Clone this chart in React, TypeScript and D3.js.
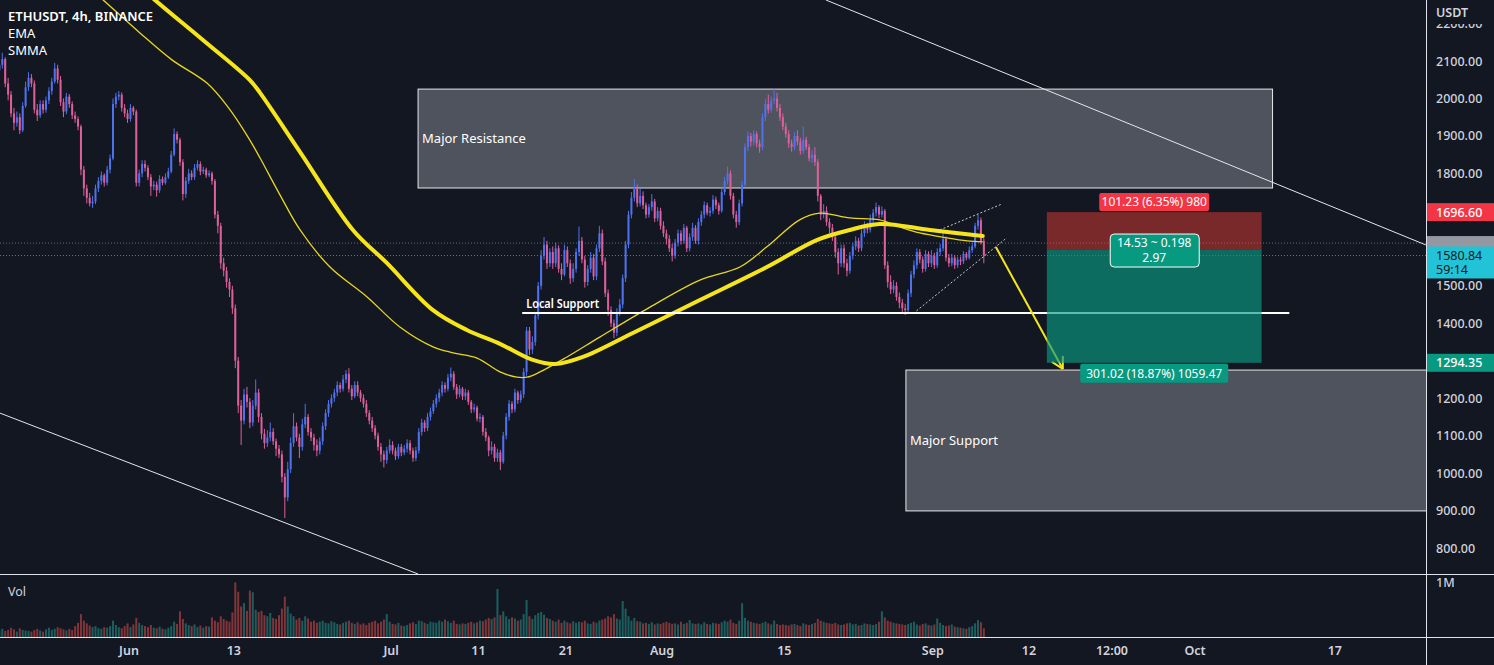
import React from "react";
import * as d3 from "d3";

const W = 1494;
const H = 665;
const PLOT_R = 1426;
const MAIN_B = 574;
const VOL_B = 637;

// 8h candles from 2022-05-17 00:00 UTC
const startTime = Date.UTC(2022, 4, 17, 0);
const stepMs = 8 * 3600 * 1000;
const firstOpen = 2075;

const closes = [
  2090, 2105, 2040, 2010, 1960, 1935, 1950, 1915, 1980, 2030,
  2055, 2040, 1970, 1955, 1985, 1970, 1995, 2020, 2045, 2080,
  2050, 1990, 1965, 2005, 1985, 1955, 1945, 1925, 1810, 1760,
  1735, 1720, 1725, 1760, 1780, 1795, 1775, 1810, 1840, 1985,
  2005, 2010, 1975, 1960, 1945, 1975, 1965, 1775, 1800, 1825,
  1815, 1790, 1765, 1770, 1755, 1785, 1775, 1790, 1805, 1850,
  1905, 1890, 1830, 1745, 1780, 1800, 1790, 1815, 1825, 1805,
  1810, 1795, 1800, 1780, 1690, 1660, 1560, 1540, 1510, 1490,
  1440, 1300, 1180, 1140, 1210, 1190, 1135, 1180, 1215, 1150,
  1105, 1080, 1095, 1110, 1085, 1065, 1050, 990, 935, 1010,
  1080, 1125, 1095, 1070, 1130, 1150, 1110, 1095, 1075, 1060,
  1085, 1125, 1160, 1185, 1200, 1215, 1235, 1225, 1250, 1265,
  1225, 1205, 1235, 1215, 1200, 1185, 1160, 1140, 1120, 1100,
  1070, 1050, 1035, 1060, 1075, 1060, 1045, 1070, 1055, 1065,
  1080, 1060, 1040, 1060, 1110, 1135, 1120, 1150, 1165, 1185,
  1200, 1215, 1235, 1225, 1255, 1265, 1230, 1210, 1225, 1205,
  1215, 1190, 1170, 1175, 1145, 1150, 1110, 1095, 1060, 1070,
  1040, 1055, 1030, 1100, 1150, 1185, 1170, 1215, 1195, 1210,
  1270, 1380, 1330, 1350, 1420, 1500, 1580, 1610, 1560, 1590,
  1560, 1600, 1545, 1530, 1595, 1560, 1520, 1545, 1590, 1620,
  1570, 1510, 1545, 1575, 1525, 1600, 1640, 1565, 1480, 1435,
  1400, 1375, 1430, 1450, 1520, 1610, 1690, 1735, 1760, 1720,
  1740, 1715, 1690, 1710, 1725, 1680, 1700, 1660, 1640, 1625,
  1600, 1580, 1615, 1640, 1620, 1655, 1600, 1630, 1655, 1620,
  1670, 1690, 1715, 1695, 1700, 1730, 1715, 1700, 1750, 1780,
  1800, 1740, 1690, 1670, 1720, 1770, 1870, 1900, 1885, 1905,
  1880, 1870, 1950, 1985, 1970, 1995, 2000, 1975, 1950, 1925,
  1905, 1880, 1870, 1900, 1885, 1860, 1890, 1870, 1840, 1850,
  1830, 1740, 1690, 1700, 1670, 1655, 1630, 1590, 1560, 1600,
  1560, 1540, 1580, 1605, 1620, 1600, 1640, 1660, 1650, 1675,
  1695, 1710, 1690, 1700, 1555, 1510, 1490, 1500, 1470, 1455,
  1440, 1435, 1480, 1530, 1555, 1590, 1570, 1545, 1585, 1560,
  1580, 1555, 1590, 1600, 1625, 1575, 1560, 1575, 1555, 1570,
  1565, 1585, 1575, 1595, 1605, 1660, 1675, 1620, 1580.84,
];

const highs = [
  2105, 2122, 2110, 2055, 2020, 1975, 1965, 1960, 1990, 2045,
  2070, 2065, 2048, 1985, 1995, 1995, 2005, 2030, 2055, 2095,
  2090, 2060, 2000, 2015, 2012, 1992, 1965, 1952, 1930, 1820,
  1770, 1748, 1740, 1770, 1790, 1805, 1800, 1820, 1850, 2000,
  2015, 2020, 2016, 1985, 1970, 1985, 1980, 1970, 1810, 1835,
  1835, 1822, 1798, 1780, 1778, 1795, 1792, 1800, 1815, 1860,
  1920, 1912, 1895, 1838, 1790, 1812, 1808, 1825, 1835, 1832,
  1818, 1815, 1808, 1805, 1785, 1700, 1668, 1575, 1550, 1520,
  1500, 1450, 1310, 1195, 1225, 1230, 1200, 1195, 1250, 1225,
  1160, 1118, 1115, 1135, 1120, 1092, 1075, 1060, 1000, 1030,
  1095, 1160, 1135, 1105, 1145, 1185, 1158, 1120, 1105, 1090,
  1095, 1135, 1170, 1195, 1210, 1225, 1245, 1242, 1262, 1275,
  1280, 1235, 1245, 1245, 1222, 1210, 1195, 1168, 1150, 1128,
  1108, 1080, 1060, 1070, 1090, 1085, 1068, 1078, 1078, 1075,
  1090, 1088, 1068, 1070, 1120, 1145, 1142, 1160, 1175, 1195,
  1210, 1225, 1245, 1242, 1265, 1282, 1272, 1238, 1235, 1230,
  1225, 1222, 1195, 1185, 1180, 1160, 1155, 1120, 1100, 1085,
  1078, 1065, 1062, 1110, 1160, 1195, 1192, 1225, 1220, 1220,
  1280, 1390, 1390, 1365, 1430, 1510, 1595, 1630, 1620, 1600,
  1605, 1615, 1608, 1560, 1610, 1605, 1570, 1560, 1600, 1658,
  1630, 1580, 1555, 1590, 1585, 1610, 1660, 1650, 1575, 1490,
  1445, 1410, 1440, 1465, 1530, 1620, 1700, 1750, 1785, 1770,
  1760, 1752, 1722, 1718, 1745, 1732, 1710, 1708, 1672, 1650,
  1635, 1612, 1625, 1650, 1648, 1665, 1660, 1640, 1668, 1662,
  1680, 1700, 1725, 1722, 1710, 1742, 1738, 1722, 1762, 1790,
  1818, 1808, 1748, 1700, 1730, 1780, 1880, 1912, 1908, 1915,
  1912, 1890, 1960, 1998, 2010, 2005, 2025, 2015, 1985, 1960,
  1935, 1915, 1890, 1910, 1915, 1895, 1925, 1898, 1878, 1862,
  1870, 1838, 1745, 1718, 1712, 1680, 1665, 1640, 1600, 1610,
  1610, 1572, 1590, 1615, 1632, 1628, 1650, 1672, 1668, 1690,
  1705, 1722, 1715, 1712, 1705, 1565, 1528, 1515, 1510, 1482,
  1465, 1452, 1490, 1540, 1568, 1600, 1598, 1578, 1595, 1592,
  1595, 1588, 1600, 1612, 1648, 1632, 1585, 1585, 1582, 1578,
  1578, 1592, 1590, 1605, 1615, 1668, 1690, 1682, 1628,
];

const lows = [
  2065, 2080, 2030, 1995, 1950, 1915, 1925, 1905, 1910, 1975,
  2020, 2030, 1960, 1940, 1948, 1960, 1962, 1985, 2010, 2040,
  2040, 1980, 1950, 1958, 1975, 1945, 1935, 1915, 1795, 1740,
  1720, 1712, 1708, 1718, 1750, 1770, 1765, 1768, 1800, 1835,
  1975, 1995, 1965, 1950, 1935, 1938, 1955, 1765, 1765, 1790,
  1805, 1782, 1740, 1755, 1738, 1748, 1768, 1770, 1785, 1800,
  1845, 1880, 1820, 1728, 1735, 1772, 1782, 1783, 1808, 1795,
  1798, 1788, 1790, 1770, 1680, 1640, 1545, 1525, 1495, 1470,
  1425, 1280, 1160, 1075, 1130, 1175, 1120, 1125, 1170, 1135,
  1090, 1065, 1070, 1085, 1075, 1045, 1040, 975, 880, 925,
  1000, 1070, 1085, 1040, 1060, 1120, 1100, 1085, 1060, 1045,
  1050, 1075, 1115, 1150, 1175, 1190, 1205, 1215, 1218, 1240,
  1215, 1195, 1200, 1205, 1190, 1175, 1150, 1130, 1110, 1090,
  1060, 1030, 1015, 1025, 1052, 1050, 1035, 1038, 1045, 1048,
  1055, 1050, 1030, 1032, 1052, 1100, 1110, 1112, 1140, 1158,
  1175, 1190, 1205, 1215, 1218, 1245, 1222, 1198, 1202, 1195,
  1195, 1182, 1160, 1162, 1138, 1135, 1100, 1085, 1045, 1050,
  1030, 1030, 1008, 1025, 1090, 1140, 1160, 1162, 1185, 1188,
  1200, 1260, 1315, 1318, 1340, 1410, 1490, 1570, 1545, 1550,
  1545, 1550, 1535, 1515, 1525, 1550, 1505, 1510, 1535, 1580,
  1560, 1495, 1500, 1535, 1515, 1515, 1590, 1555, 1470, 1420,
  1390, 1360, 1365, 1420, 1440, 1510, 1600, 1680, 1725, 1710,
  1712, 1705, 1680, 1682, 1700, 1670, 1672, 1650, 1630, 1610,
  1590, 1565, 1572, 1605, 1610, 1612, 1590, 1592, 1620, 1612,
  1610, 1660, 1680, 1688, 1685, 1692, 1705, 1690, 1695, 1742,
  1770, 1730, 1680, 1655, 1662, 1712, 1765, 1860, 1872, 1875,
  1870, 1855, 1862, 1940, 1960, 1962, 1985, 1965, 1940, 1915,
  1895, 1868, 1858, 1862, 1875, 1850, 1852, 1862, 1832, 1828,
  1820, 1725, 1675, 1680, 1660, 1640, 1620, 1575, 1530, 1550,
  1548, 1525, 1532, 1570, 1595, 1590, 1592, 1630, 1640, 1642,
  1665, 1685, 1680, 1682, 1545, 1495, 1478, 1480, 1460, 1440,
  1430, 1422, 1428, 1470, 1520, 1545, 1560, 1535, 1538, 1550,
  1550, 1545, 1548, 1580, 1592, 1565, 1550, 1552, 1545, 1548,
  1555, 1558, 1568, 1570, 1588, 1600, 1650, 1610, 1560,
];

// volume in thousands
const volumes = [
  120, 150, 110, 130, 170, 140, 100, 160, 130, 120,
  110, 100, 130, 150, 120, 100, 140, 170, 130, 150,
  180, 160, 140, 120, 150, 130, 200, 260, 420, 300,
  250, 210, 180, 200, 160, 150, 180, 170, 200, 300,
  220, 180, 160, 200, 250, 180, 230, 350, 260, 220,
  200, 180, 220, 170, 160, 190, 150, 140, 170, 200,
  280, 240, 470, 330, 250, 220, 200, 230, 180, 210,
  170, 200, 190, 360, 300, 270, 380, 330, 300, 280,
  450, 1000, 830, 560, 620, 480, 850, 820, 500, 460,
  480, 400, 380, 440, 350, 330, 400, 520, 740, 560,
  430, 380, 320, 350, 300, 380, 340, 280, 300, 260,
  280, 300, 260, 250, 290, 270, 240, 230, 260, 280,
  300, 260, 240, 270, 230, 250, 220, 260, 280, 300,
  250, 280, 320, 420, 280, 240, 230, 260, 210, 200,
  220, 250, 270, 240, 300, 290, 260, 240, 280, 270,
  260, 300, 280, 320, 290, 260, 300, 240, 230, 250,
  240, 260, 280, 250, 270, 300, 290, 320, 350, 330,
  360, 880, 400, 470, 380, 330, 360, 340, 300, 320,
  420, 680, 380, 330, 400, 440, 460, 410, 350, 330,
  300, 280, 320, 260, 300, 270, 250, 290, 260, 280,
  270, 300, 250, 240, 280, 260, 300, 320, 340, 380,
  360, 420, 340, 320, 660, 520, 380, 300, 350, 290,
  280, 250, 260, 240, 270, 230, 250, 240, 260, 280,
  260, 240, 250, 230, 280, 240, 260, 310, 250, 240,
  250, 230, 270, 240, 230, 260, 250, 240, 270, 300,
  280, 320, 260, 240, 300, 620, 350, 300, 280, 260,
  250, 240, 260, 280, 250, 230, 300, 240, 220, 230,
  220, 210, 230, 240, 220, 200, 250, 230, 220, 240,
  260, 330, 300, 280, 260, 250, 240, 260, 230, 220,
  230, 250, 260, 230, 240, 210, 220, 250, 240, 230,
  220, 240, 280, 470, 360, 300, 280, 260, 250, 240,
  230, 220, 240, 260, 280, 230, 210, 240, 250, 220,
  210, 230, 340, 260, 220, 200, 210, 230, 190, 180,
  170, 160, 150, 180, 200, 250, 310, 270, 160,
];

// SMMA (thick) and EMA (thin)
const smmaDates = [
  "2022-05-31T00:00Z", "2022-06-03T23:00Z", "2022-06-09T11:00Z", "2022-06-14T20:00Z",
  "2022-06-16T00:00Z", "2022-06-20T14:00Z", "2022-06-26T15:00Z", "2022-06-30T12:00Z",
  "2022-07-05T19:00Z", "2022-07-09T16:00Z", "2022-07-13T11:00Z", "2022-07-17T05:00Z",
  "2022-07-19T18:00Z", "2022-07-22T23:00Z", "2022-07-28T16:00Z", "2022-08-05T08:00Z",
  "2022-08-13T00:00Z", "2022-08-18T17:00Z", "2022-08-22T12:00Z", "2022-08-25T22:00Z",
  "2022-08-31T16:00Z", "2022-09-06T17:00Z",
];
const smmaValues = [
  2345, 2263, 2156, 2049, 2015, 1857, 1649, 1561, 1435, 1382, 1345, 1302,
  1291, 1310, 1374, 1462, 1550, 1622, 1649, 1665, 1649, 1633,
];

const emaDates = [
  "2022-05-24T02:00Z", "2022-05-29T01:00Z", "2022-06-02T06:00Z", "2022-06-05T22:00Z",
  "2022-06-09T22:00Z", "2022-06-12T08:00Z", "2022-06-14T15:00Z", "2022-06-16T00:00Z",
  "2022-06-18T07:00Z", "2022-06-20T14:00Z", "2022-06-24T00:00Z", "2022-06-28T06:00Z",
  "2022-07-02T00:00Z", "2022-07-05T19:00Z", "2022-07-08T02:00Z", "2022-07-10T20:00Z",
  "2022-07-13T11:00Z", "2022-07-15T09:00Z", "2022-07-16T13:00Z", "2022-07-18T01:00Z",
  "2022-07-21T03:00Z", "2022-07-24T21:00Z", "2022-07-30T15:00Z", "2022-08-05T08:00Z",
  "2022-08-09T22:00Z", "2022-08-13T00:00Z", "2022-08-16T18:00Z", "2022-08-19T01:00Z",
  "2022-08-22T12:00Z", "2022-08-25T22:00Z", "2022-08-28T05:00Z", "2022-08-30T12:00Z",
  "2022-09-02T14:00Z", "2022-09-04T22:00Z", "2022-09-06T17:00Z",
];
const emaValues = [
  2365, 2263, 2175, 2103, 2041, 1977, 1897, 1841, 1742, 1649, 1550, 1470,
  1390, 1337, 1321, 1307, 1270, 1256, 1256, 1270, 1310, 1363, 1443, 1515,
  1550, 1604, 1676, 1694, 1681, 1676, 1657, 1641, 1628, 1620, 1617,
];

// visible price-axis ticks (1300, 1600, 1700 are hidden behind the price labels)
const priceTicks = [800, 900, 1000, 1100, 1200, 1400, 1500, 1800, 1900, 2000, 2100, 2200];
const timeTickLabels = ["Jun", "13", "Jul", "11", "21", "Aug", "15", "Sep", "12", "12:00", "Oct", "17"];
const timeTickDates = [
  "2022-06-01T00:00Z", "2022-06-13T00:00Z", "2022-07-01T00:00Z", "2022-07-11T00:00Z",
  "2022-07-21T00:00Z", "2022-08-01T00:00Z", "2022-08-15T00:00Z", "2022-09-01T00:00Z",
  "2022-09-12T00:00Z", "2022-09-21T12:00Z", "2022-10-01T00:00Z", "2022-10-17T00:00Z",
];

// drawings
const resistance = { t0: "2022-07-04T02:00Z", t1: "2022-10-09T21:00Z", top: 2025, bottom: 1761 };
const support = { t0: "2022-08-28T22:00Z", t1: "2022-11-30T00:00Z", top: 1275, bottom: 899 };
const localSupport = { t0: "2022-07-16T00:00Z", t1: "2022-10-11T19:00Z", price: 1427 };
const position = { t0: "2022-09-14T01:00Z", t1: "2022-10-08T15:00Z", stop: 1696.6, entry: 1595.37, target: 1294.35 };
const trendTop = { t0: "2022-08-19T18:00Z", p0: 2263, t1: "2022-10-27T10:00Z", p1: 1609 };
const trendBottom = { t0: "2022-05-17T05:45Z", p0: 1160, t1: "2022-07-04T02:00Z", p1: 730.6 };
const wedgeUpper = { t0: "2022-09-01T19:00Z", p0: 1649, t1: "2022-09-08T21:00Z", p1: 1718 };
const wedgeLower = { t0: "2022-08-30T03:00Z", p0: 1433, t1: "2022-09-09T11:00Z", p1: 1628 };
const arrow = { t0: "2022-09-08T05:00Z", p0: 1603.5, t1: "2022-09-15T21:00Z", p1: 1278 };
const lastPrice = 1580.84;
const emaLinePrice = 1614;

const FONT = "'Noto Sans', sans-serif";
const TXT = "#d1d4dc";
const BG = "#131722";

export default function App() {
  const x = d3
    .scaleUtc()
    .domain([new Date("2022-06-01T00:00Z"), new Date("2022-10-01T00:00Z")])
    .range([129, 1195]);
  const y = d3.scaleLinear().domain([800, 2100]).range([548, 61]);
  const yv = d3.scaleLinear().domain([0, 1100]).range([VOL_B, 577]);
  const D = (s: string) => new Date(s);

  const candles = closes.map((c, i) => {
    const o = i === 0 ? firstOpen : closes[i - 1];
    const t = new Date(startTime + i * stepMs + stepMs / 2);
    return { o, c, h: highs[i], l: lows[i], v: volumes[i], cx: x(t) };
  });

  const line = d3
    .line<[Date, number]>()
    .x((d) => x(d[0]))
    .y((d) => y(d[1]))
    .curve(d3.curveCatmullRom.alpha(0.5));
  const smmaPath = line(smmaDates.map((d, i) => [D(d), smmaValues[i]] as [Date, number])) || "";
  const emaPath = line(emaDates.map((d, i) => [D(d), emaValues[i]] as [Date, number])) || "";

  const upC = "#4f72ee";
  const dnC = "#de5f9c";

  const posX0 = x(D(position.t0));
  const posX1 = x(D(position.t1));
  const posC = (posX0 + posX1) / 2;

  const ax0 = x(D(arrow.t0)), ay0 = y(arrow.p0), ax1 = x(D(arrow.t1)), ay1 = y(arrow.p1);
  const ang = Math.atan2(ay1 - ay0, ax1 - ax0);
  const ah = 13;
  const a1 = [ax1 - ah * Math.cos(ang - 0.5), ay1 - ah * Math.sin(ang - 0.5)];
  const a2 = [ax1 - ah * Math.cos(ang + 0.5), ay1 - ah * Math.sin(ang + 0.5)];

  const seg = (s: { t0: string; p0: number; t1: string; p1: number }) => ({
    x1: x(D(s.t0)), y1: y(s.p0), x2: x(D(s.t1)), y2: y(s.p1),
  });

  const axisW = W - PLOT_R - 1;

  return (
    <svg
      width={W}
      height={H}
      style={{ position: "absolute", left: 0, top: 0, background: BG, fontFamily: FONT }}
    >
      <defs>
        <clipPath id="main">
          <rect x={0} y={0} width={PLOT_R} height={MAIN_B} />
        </clipPath>
        <clipPath id="vol">
          <rect x={0} y={MAIN_B} width={PLOT_R} height={VOL_B - MAIN_B} />
        </clipPath>
        <clipPath id="axis">
          <rect x={PLOT_R + 1} y={24} width={axisW} height={MAIN_B - 24} />
        </clipPath>
      </defs>
      <rect x={0} y={0} width={W} height={H} fill={BG} />

      <g clipPath="url(#main)">
        {/* price lines */}
        <line x1={0} x2={PLOT_R} y1={y(emaLinePrice)} y2={y(emaLinePrice)} stroke="#8a8d96" strokeDasharray="1,2" strokeWidth={1} opacity={0.7} />
        <line x1={0} x2={PLOT_R} y1={y(lastPrice)} y2={y(lastPrice)} stroke="#e0607e" strokeDasharray="1,2" strokeWidth={1} opacity={0.8} />

        {/* boxes */}
        <rect
          x={x(D(resistance.t0))}
          y={y(resistance.top)}
          width={x(D(resistance.t1)) - x(D(resistance.t0))}
          height={y(resistance.bottom) - y(resistance.top)}
          fill="rgba(120,123,134,0.6)"
          stroke="#e8e8ec"
          strokeWidth={1}
        />
        <text x={x(D(resistance.t0)) + 4} y={(y(resistance.top) + y(resistance.bottom)) / 2 + 4} fill="#ffffff" fontSize={13}>
          Major Resistance
        </text>
        <rect
          x={x(D(support.t0))}
          y={y(support.top)}
          width={x(D(support.t1)) - x(D(support.t0))}
          height={y(support.bottom) - y(support.top)}
          fill="rgba(120,123,134,0.6)"
          stroke="#e8e8ec"
          strokeWidth={1}
        />
        <text x={x(D(support.t0)) + 4} y={(y(support.top) + y(support.bottom)) / 2 + 5} fill="#ffffff" fontSize={13}>
          Major Support
        </text>

        {/* candles */}
        {candles.map((k, i) => {
          const col = k.c >= k.o ? upC : dnC;
          const top = y(Math.max(k.o, k.c));
          const bot = y(Math.min(k.o, k.c));
          return (
            <g key={i}>
              <line x1={k.cx} x2={k.cx} y1={y(k.h)} y2={y(k.l)} stroke={col} strokeWidth={1} />
              <rect x={k.cx - 1} y={top} width={2} height={Math.max(1, bot - top)} fill={col} />
            </g>
          );
        })}

        {/* moving averages */}
        <path d={emaPath} fill="none" stroke="#e8d61f" strokeWidth={1.3} />
        <path d={smmaPath} fill="none" stroke="#f7e51c" strokeWidth={4} strokeLinecap="round" />

        {/* trend lines */}
        <line {...seg(trendTop)} stroke="#e6e6ea" strokeWidth={1} />
        <line {...seg(trendBottom)} stroke="#e6e6ea" strokeWidth={1} />

        {/* wedge */}
        <line {...seg(wedgeUpper)} stroke="#c8cad2" strokeWidth={1} strokeDasharray="2,2" />
        <line {...seg(wedgeLower)} stroke="#c8cad2" strokeWidth={1} strokeDasharray="2,2" />

        {/* local support */}
        <line
          x1={x(D(localSupport.t0))}
          x2={x(D(localSupport.t1))}
          y1={y(localSupport.price)}
          y2={y(localSupport.price)}
          stroke="#ffffff"
          strokeWidth={2}
        />
        <text
          x={x(D(localSupport.t0)) + 4}
          y={y(localSupport.price) - 5}
          fill="#ffffff"
          fontSize={12.5}
          fontWeight={600}
          textLength={73}
          lengthAdjust="spacingAndGlyphs"
        >
          Local Support
        </text>

        {/* arrow */}
        <line x1={ax0} y1={ay0} x2={ax1} y2={ay1} stroke="#f5e61a" strokeWidth={2} />
        <line x1={ax1} y1={ay1} x2={a1[0]} y2={a1[1]} stroke="#f5e61a" strokeWidth={2} />
        <line x1={ax1} y1={ay1} x2={a2[0]} y2={a2[1]} stroke="#f5e61a" strokeWidth={2} />

        {/* position tool */}
        <rect x={posX0} y={y(position.stop)} width={posX1 - posX0} height={y(position.entry) - y(position.stop)} fill="rgba(236,62,52,0.47)" />
        <rect x={posX0} y={y(position.entry)} width={posX1 - posX0} height={y(position.target) - y(position.entry)} fill="rgba(8,153,129,0.65)" />
        <rect x={posC - 55} y={y(position.stop) - 19} width={110} height={18} rx={2} fill="#f23645" />
        <text x={posC} y={y(position.stop) - 6} fill="#ffffff" fontSize={12} textAnchor="middle">
          101.23 (6.35%) 980
        </text>
        <rect x={posC - 44} y={y(position.entry) - 16} width={89} height={33} rx={4} fill="#089981" stroke="#ffffff" strokeWidth={1} />
        <text x={posC} y={y(position.entry) - 3} fill="#ffffff" fontSize={12} textAnchor="middle">
          14.53 ~ 0.198
        </text>
        <text x={posC} y={y(position.entry) + 12} fill="#ffffff" fontSize={12} textAnchor="middle">
          2.97
        </text>
        <rect x={posC - 74} y={y(position.target) + 1} width={148} height={19} rx={2} fill="#089981" />
        <text x={posC} y={y(position.target) + 15} fill="#ffffff" fontSize={12} textAnchor="middle">
          301.02 (18.87%) 1059.47
        </text>
      </g>

      {/* volume */}
      <g clipPath="url(#vol)">
        {candles.map((k, i) => (
          <rect
            key={i}
            x={k.cx - 1}
            y={yv(k.v)}
            width={2}
            height={VOL_B - yv(k.v)}
            fill={k.c >= k.o ? "rgba(38,166,154,0.5)" : "rgba(239,83,80,0.5)"}
          />
        ))}
      </g>

      {/* pane separators */}
      <line x1={0} x2={W} y1={MAIN_B + 0.5} y2={MAIN_B + 0.5} stroke="#e0e3eb" strokeWidth={1} />
      <line x1={0} x2={W} y1={VOL_B + 0.5} y2={VOL_B + 0.5} stroke="#e0e3eb" strokeWidth={1} />
      <line x1={PLOT_R + 0.5} x2={PLOT_R + 0.5} y1={0} y2={H} stroke="#e0e3eb" strokeWidth={1} />

      {/* legend */}
      <text x={8} y={21} fill="#ffffff" fontSize={13} fontWeight={600}>ETHUSDT, 4h, BINANCE</text>
      <text x={8} y={38} fill="#ffffff" fontSize={13}>EMA</text>
      <text x={8} y={55} fill="#ffffff" fontSize={13}>SMMA</text>
      <text x={8} y={596} fill={TXT} fontSize={12.5}>Vol</text>

      {/* price axis */}
      <g clipPath="url(#axis)">
        {priceTicks.map((p) => (
          <text key={p} x={1436} y={y(p) + 4.5} fill={TXT} fontSize={12.5} fontWeight={500}>
            {p.toFixed(2)}
          </text>
        ))}
      </g>
      <text x={1436} y={17} fill={TXT} fontSize={12.5} fontWeight={600}>USDT</text>
      <text x={1436} y={587} fill={TXT} fontSize={12.5} fontWeight={500}>1M</text>

      <rect x={PLOT_R + 1} y={y(position.stop) - 9} width={axisW} height={18} fill="#f23645" />
      <text x={1436} y={y(position.stop) + 4.5} fill="#ffffff" fontSize={12.5} fontWeight={500}>1696.60</text>

      <rect x={PLOT_R + 1} y={y(emaLinePrice) - 7} width={axisW} height={14} fill="#9598a1" />
      <rect x={PLOT_R + 1} y={y(lastPrice) - 9} width={axisW} height={32} fill="#22c3d6" />
      <text x={1436} y={y(lastPrice) + 4.5} fill="#131722" fontSize={12.5}>{lastPrice.toFixed(2)}</text>
      <text x={1436} y={y(lastPrice) + 19} fill="#131722" fontSize={12.5}>59:14</text>

      <rect x={PLOT_R + 1} y={y(position.target) - 9} width={axisW} height={18} fill="#089981" />
      <text x={1436} y={y(position.target) + 4.5} fill="#ffffff" fontSize={12.5} fontWeight={500}>{position.target.toFixed(2)}</text>

      {/* time axis */}
      {timeTickLabels.map((lab, i) => (
        <text key={lab + i} x={x(D(timeTickDates[i]))} y={655} fill={TXT} fontSize={12.5} fontWeight={600} textAnchor="middle">
          {lab}
        </text>
      ))}
    </svg>
  );
}
